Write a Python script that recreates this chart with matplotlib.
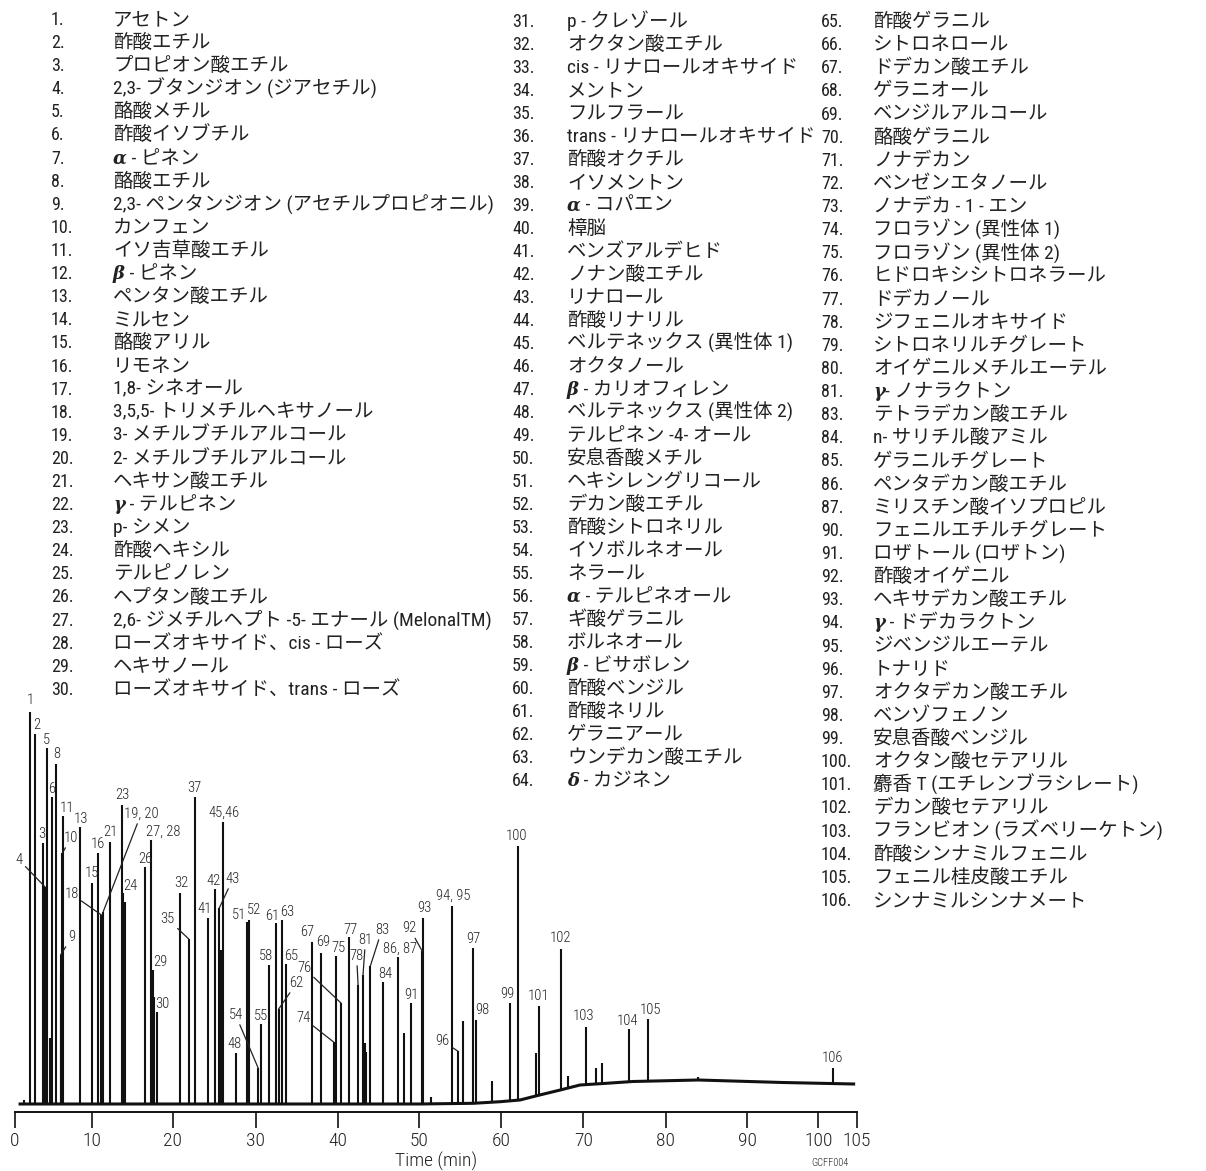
import numpy as np
import matplotlib
matplotlib.use('Agg')
import matplotlib.pyplot as plt
from matplotlib import font_manager as fm

W, H, DPI = 1206, 1171, 100
ink = '#222222'


def pick_narrow():
    # a condensed latin face if one is installed
    fl = fm.fontManager.ttflist
    names = {f.name for f in fl}
    for n in ['Liberation Sans Narrow', 'Roboto Condensed', 'Open Sans Condensed',
              'DejaVu Sans Condensed', 'Noto Sans Condensed']:
        if n in names:
            return n, 'normal'
    for f in fl:
        if f.name in ('Roboto', 'Open Sans', 'Noto Sans', 'DejaVu Sans', 'Inter') and \
                str(f.stretch) in ('condensed', 'semi-condensed', 'extra-condensed'):
            return f.name, f.stretch
    return 'Noto Sans CJK JP', 'normal'


narrow, stretch = pick_narrow()
jp = [narrow, 'Noto Sans CJK JP', 'DejaVu Sans']
wt = 'light'

# ---- compound list, three columns ----
nums_a = list(range(1, 31))
names_a = ['アセトン', '酢酸エチル', 'プロピオン酸エチル', '2,3- ブタンジオン (ジアセチル)',
           '酪酸メチル', '酢酸イソブチル', 'α - ピネン', '酪酸エチル',
           '2,3- ペンタンジオン (アセチルプロピオニル)', 'カンフェン', 'イソ吉草酸エチル',
           'β - ピネン', 'ペンタン酸エチル', 'ミルセン', '酪酸アリル', 'リモネン',
           '1,8- シネオール', '3,5,5- トリメチルヘキサノール', '3- メチルブチルアルコール',
           '2- メチルブチルアルコール', 'ヘキサン酸エチル', 'γ - テルピネン', 'p- シメン',
           '酢酸ヘキシル', 'テルピノレン', 'ヘプタン酸エチル',
           '2,6- ジメチルヘプト -5- エナール (MelonalTM)', 'ローズオキサイド、cis - ローズ',
           'ヘキサノール', 'ローズオキサイド、trans - ローズ']

nums_b = list(range(31, 65))
names_b = ['p - クレゾール', 'オクタン酸エチル', 'cis - リナロールオキサイド', 'メントン',
           'フルフラール', 'trans - リナロールオキサイド', '酢酸オクチル', 'イソメントン',
           'α - コパエン', '樟脳', 'ベンズアルデヒド', 'ノナン酸エチル', 'リナロール',
           '酢酸リナリル', 'ベルテネックス (異性体 1)', 'オクタノール', 'β - カリオフィレン',
           'ベルテネックス (異性体 2)', 'テルピネン -4- オール', '安息香酸メチル',
           'ヘキシレングリコール', 'デカン酸エチル', '酢酸シトロネリル', 'イソボルネオール',
           'ネラール', 'α - テルピネオール', 'ギ酸ゲラニル', 'ボルネオール', 'β - ビサボレン',
           '酢酸ベンジル', '酢酸ネリル', 'ゲラニアール', 'ウンデカン酸エチル', 'δ - カジネン']

nums_c = [65, 66, 67, 68, 69, 70, 71, 72, 73, 74, 75, 76, 77, 78, 79, 80, 81, 83, 84, 85,
          86, 87, 90, 91, 92, 93, 94, 95, 96, 97, 98, 99, 100, 101, 102, 103, 104, 105, 106]
names_c = ['酢酸ゲラニル', 'シトロネロール', 'ドデカン酸エチル', 'ゲラニオール',
           'ベンジルアルコール', '酪酸ゲラニル', 'ノナデカン', 'ベンゼンエタノール',
           'ノナデカ - 1 - エン', 'フロラゾン (異性体 1)', 'フロラゾン (異性体 2)',
           'ヒドロキシシトロネラール', 'ドデカノール', 'ジフェニルオキサイド',
           'シトロネリルチグレート', 'オイゲニルメチルエーテル', 'γ- ノナラクトン',
           'テトラデカン酸エチル', 'n- サリチル酸アミル', 'ゲラニルチグレート',
           'ペンタデカン酸エチル', 'ミリスチン酸イソプロピル', 'フェニルエチルチグレート',
           'ロザトール (ロザトン)', '酢酸オイゲニル', 'ヘキサデカン酸エチル',
           'γ - ドデカラクトン', 'ジベンジルエーテル', 'トナリド', 'オクタデカン酸エチル',
           'ベンゾフェノン', '安息香酸ベンジル', 'オクタン酸セテアリル',
           '麝香 T (エチレンブラシレート)', 'デカン酸セテアリル',
           'フランビオン (ラズベリーケトン)', '酢酸シンナミルフェニル', 'フェニル桂皮酸エチル',
           'シンナミルシンナメート']

# ---- chromatogram: baseline and peaks (time in min, signal) ----
base_t = [0.7, 20, 40, 50, 56.6, 59.9, 62.3, 64.7, 67.2, 69.6, 72.8, 76, 84, 95, 104.6]
base_v = [8, 8, 8, 8, 8.7, 10.3, 12, 17, 22, 27, 28.7, 30.5, 32, 29.5, 28]

peak_t = [1.2, 2.0, 2.7, 3.7, 3.95, 4.05, 4.2, 4.6, 4.8, 5.4, 5.95, 6.05, 6.2, 6.3, 8.5,
          10.0, 10.8, 11.2, 11.4, 12.3, 13.7, 13.9, 14.05, 16.6, 17.3, 17.5, 17.65, 18.0,
          20.9, 21.9, 22.6, 24.2, 25.1, 25.6, 25.8, 26.0, 27.6, 28.9, 29.2,
          30.3, 30.6, 31.6, 32.5, 32.8, 33.2, 33.7, 36.9, 38.0, 39.5, 39.8,
          40.4, 41.4, 42.5, 43.1, 43.3, 43.5, 44.0, 45.6, 47.4, 48.1, 49.0,
          50.35, 50.5, 51.4, 54.0, 54.7, 55.3, 56.6, 57.0, 58.9,
          61.1, 62.1, 64.3, 64.6, 67.3, 68.2, 70.3, 71.6, 72.3, 75.5, 77.9, 84.0, 101.9]
peak_top = [12, 400, 378, 269, 225, 200, 364, 74, 315, 348, 157, 140, 259, 296, 285,
            229, 259, 197, 200, 270, 307, 219, 210, 245, 272, 142, 115, 100,
            219, 173, 315, 194, 223, 204, 162, 290, 59, 190, 192,
            44, 88, 147, 189, 103, 192, 148, 170, 159, 70, 156,
            109, 175, 127, 137, 69, 60, 146, 130, 155, 79, 109,
            161, 194, 15, 206, 61, 91, 164, 92, 31,
            109, 266, 59, 106, 163, 36, 85, 44, 49, 83, 93, 35, 44]
peak_lab = ['', '1', '2', '3', '4', '', '5', '', '6', '8', '9', '', '10', '11', '13',
            '15', '16', '18', '19, 20', '21', '23', '24', '', '26', '27, 28', '29', '', '30',
            '32', '35', '37', '41', '42', '43', '', '45,46', '48', '51', '52',
            '54', '55', '58', '61', '62', '63', '65', '67', '69', '74', '75',
            '76', '77', '78', '81', '', '', '83', '84', '86, 87', '', '91',
            '92', '93', '', '94, 95', '96', '', '97', '98', '',
            '99', '100', '', '101', '102', '', '103', '', '', '104', '105', '', '106']

tick_min = [0, 10, 20, 30, 40, 50, 60, 70, 80, 90, 100, 105]

# ---- layout ----
# pixel position of each tick in the original (its axis is not evenly spaced)
tick_px = [14.7, 91.7, 173, 255.7, 337.7, 419.3, 501, 583.3, 665.7, 747.3, 818.3, 856.7]
# label centre offset from peak top, in pixels (right, up)
lab_off = {'1': (0, 12), '2': (1.5, 9), '3': (-1.5, 9), '4': (-26, 27), '5': (-0.5, 8),
           '6': (0, 8), '8': (0.5, 10.5), '9': (11.5, 18), '10': (8.5, 15), '11': (3.5, 8.5),
           '13': (0.5, 8), '15': (0.5, 10), '16': (0, 9), '18': (-30, 21),
           '19, 20': (38, 98), '21': (0.5, 10), '23': (0.5, 10), '24': (7, 7),
           '26': (-0.5, 8), '27, 28': (12, 8), '29': (7.5, 7.5), '30': (6, 7.5),
           '32': (0.5, 10), '35': (-21, 20), '37': (0, 9), '41': (-3.5, 9), '42': (-1.5, 8),
           '43': (13.5, 29), '45,46': (1.5, 9), '48': (-1.5, 8.5), '51': (-7.5, 7),
           '52': (5, 10), '54': (-22.5, 53), '55': (0, 8), '58': (-2.5, 8.5), '61': (-3.5, 7),
           '62': (18, 26), '63': (5.5, 8), '65': (5, 8), '67': (-5, 10), '69': (1.5, 10.5),
           '74': (-30.5, 24), '75': (2.5, 8), '76': (-37, 35), '77': (1, 7.5), '78': (-1.5, 29),
           '81': (2.5, 35), '83': (11.5, 36), '84': (1.5, 8), '86, 87': (1.5, 8.5),
           '91': (0, 8), '92': (-12.5, 22.5), '93': (0.5, 10), '94, 95': (1.5, 10),
           '96': (-15.5, 10), '97': (0.5, 9), '98': (5.5, 9.5), '99': (-2.5, 9.5),
           '100': (-1.5, 10), '101': (0, 9.5), '102': (-0.5, 11), '103': (-2.5, 11.5),
           '104': (-1.5, 8), '105': (2.5, 9.5), '106': (0, 10)}
leaders = {'4', '9', '10', '18', '19, 20', '35', '43', '54', '62', '74', '76', '78',
           '81', '83', '92', '96'}


def fwd(t):
    return np.interp(t, tick_min, tick_px)


def inv(p):
    return np.interp(p, tick_px, tick_min)


fig = plt.figure(figsize=(W / DPI, H / DPI), dpi=DPI)

ax = fig.add_axes([tick_px[0] / W, 59 / H, (tick_px[-1] - tick_px[0]) / W, 432 / H])
ax.set_xscale('function', functions=(fwd, inv))
ax.set_xlim(0, 105)
ax.set_ylim(0, 432)

ax.plot(base_t, base_v, color='#111111', lw=2.2, solid_joinstyle='round')
bottoms = np.interp(peak_t, base_t, base_v)
ax.vlines(peak_t, bottoms, peak_top, color='#111111', lw=1.5)

for t, top, lab in zip(peak_t, peak_top, peak_lab):
    if not lab:
        continue
    dx, dy = lab_off[lab]
    arrow = None
    if lab in leaders:
        arrow = dict(arrowstyle='-', color=ink, lw=0.9, shrinkA=0, shrinkB=0)
    ax.annotate(lab, xy=(t, top), xytext=(dx, dy), textcoords='offset pixels',
                ha='center', va='center', fontsize=10.5, family=narrow, stretch=stretch,
                weight=wt, color=ink, arrowprops=arrow, annotation_clip=False)

for s in ['top', 'left', 'right']:
    ax.spines[s].set_visible(False)
ax.spines['bottom'].set_linewidth(1.4)
ax.spines['bottom'].set_color('#111111')
ax.set_yticks([])
ax.set_xticks(tick_min)
ax.set_xticklabels([str(v) for v in tick_min], family=narrow, stretch=stretch,
                   weight=wt, fontsize=14, color=ink)
ax.xaxis.set_minor_locator(matplotlib.ticker.NullLocator())
ax.tick_params(axis='x', direction='out', length=11.5, width=1.2, pad=3, color='#111111')
ax.set_xlabel('Time (min)', family=narrow, stretch=stretch, weight=wt, fontsize=14,
              color=ink, labelpad=1)
ax.patch.set_visible(False)

# overlay in pixel coordinates for the compound list
ov = fig.add_axes([0, 0, 1, 1])
ov.set_xlim(0, W)
ov.set_ylim(H, 0)
ov.axis('off')

greek = 'αβγδ'
cols = [(nums_a, names_a, 51, 113, 25.0, 23.1),
        (nums_b, names_b, 512, 567, 27.0, 23.0),
        (nums_c, names_c, 821, 873, 27.0, 23.13)]
for nums, names, xn, xt, y0, dy in cols:
    for i, (n, name) in enumerate(zip(nums, names)):
        y = y0 + i * dy
        ov.text(xn, y, f'{n}.', family=narrow, stretch=stretch, fontsize=13,
                color=ink, ha='left', va='baseline')
        if name[0] in greek:
            g = ov.text(xt, y, name[0], family='DejaVu Serif', style='italic',
                        weight='bold', fontsize=13, color=ink, ha='left', va='baseline')
            ov.annotate(name[1:], xy=(1.0, y), xycoords=(g, 'data'), family=jp,
                        stretch=stretch, fontsize=14, color=ink,
                        ha='left', va='baseline')
        else:
            ov.text(xt, y, name, family=jp, stretch=stretch, fontsize=14,
                    color=ink, ha='left', va='baseline')

ov.text(830, 1163, 'GCFF004', family=narrow, stretch=stretch, weight=wt, fontsize=7.5,
        color=ink, ha='center', va='center')

fig.savefig('out.png', dpi=DPI)
